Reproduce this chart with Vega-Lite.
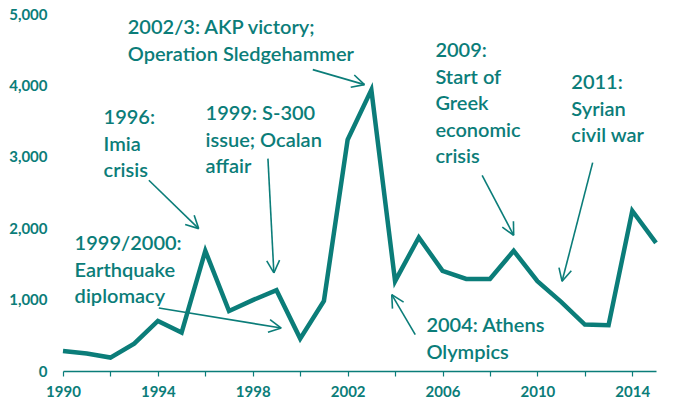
{
  "$schema": "https://vega.github.io/schema/vega-lite/v6.json",
  "width": 593,
  "height": 357,
  "autosize": {"type": "none"},
  "padding": {"left": 63, "top": 14, "right": 20, "bottom": 44},
  "background": "white",
  "config": {"view": {"stroke": null}, "font": "Lato"},
  "datasets": {
    "series": [
      {"year": 1990, "value": 280}, {"year": 1991, "value": 244}, {"year": 1992, "value": 188},
      {"year": 1993, "value": 384}, {"year": 1994, "value": 701}, {"year": 1995, "value": 538},
      {"year": 1996, "value": 1683}, {"year": 1997, "value": 841}, {"year": 1998, "value": 992},
      {"year": 1999, "value": 1132}, {"year": 2000, "value": 454}, {"year": 2001, "value": 982},
      {"year": 2002, "value": 3240}, {"year": 2003, "value": 3937}, {"year": 2004, "value": 1258},
      {"year": 2005, "value": 1871}, {"year": 2006, "value": 1403}, {"year": 2007, "value": 1290},
      {"year": 2008, "value": 1290}, {"year": 2009, "value": 1683}, {"year": 2010, "value": 1258},
      {"year": 2011, "value": 968}, {"year": 2012, "value": 651}, {"year": 2013, "value": 641},
      {"year": 2014, "value": 2244}, {"year": 2015, "value": 1795}
    ],
    "notes": [
      {"x": 1992.73, "y": 4940, "label": "2002/3: AKP victory;\nOperation Sledgehammer"},
      {"x": 1991.71, "y": 3679, "label": "1996:\nImia\ncrisis"},
      {"x": 1996.01, "y": 3735, "label": "1999: S-300\nissue; Ocalan\naffair"},
      {"x": 1990.49, "y": 1915, "label": "1999/2000:\nEarthquake\ndiplomacy"},
      {"x": 2005.70, "y": 4618, "label": "2009:\nStart of\nGreek\neconomic\ncrisis"},
      {"x": 2011.43, "y": 4169, "label": "2011:\nSyrian\ncivil war"},
      {"x": 2005.32, "y": 766, "label": "2004: Athens\nOlympics"}
    ],
    "arrows": [
      {"x1": 2000.53, "y1": 4221, "x2": 2002.71, "y2": 4011},
      {"x1": 2002.71, "y1": 4011, "x2": 2002.28, "y2": 4146},
      {"x1": 2002.71, "y1": 4011, "x2": 2002.13, "y2": 3975},
      {"x1": 1993.62, "y1": 2671, "x2": 1995.72, "y2": 1994},
      {"x1": 1995.72, "y1": 1994, "x2": 1995.53, "y2": 2181},
      {"x1": 1995.72, "y1": 1994, "x2": 1995.15, "y2": 2052},
      {"x1": 1998.64, "y1": 2975, "x2": 1998.89, "y2": 1373},
      {"x1": 1998.89, "y1": 1373, "x2": 1999.13, "y2": 1552},
      {"x1": 1998.89, "y1": 1373, "x2": 1998.59, "y2": 1542},
      {"x1": 1994.04, "y1": 882, "x2": 1999.20, "y2": 602},
      {"x1": 1999.20, "y1": 602, "x2": 1998.73, "y2": 719},
      {"x1": 1999.20, "y1": 602, "x2": 1998.64, "y2": 542},
      {"x1": 2007.67, "y1": 2741, "x2": 2009.00, "y2": 1901},
      {"x1": 2009.00, "y1": 1901, "x2": 2008.99, "y2": 2097},
      {"x1": 2009.00, "y1": 1901, "x2": 2008.52, "y2": 2014},
      {"x1": 2012.33, "y1": 2919, "x2": 2011.04, "y2": 1256},
      {"x1": 2011.04, "y1": 1256, "x2": 2011.43, "y2": 1403},
      {"x1": 2011.04, "y1": 1256, "x2": 2010.91, "y2": 1448},
      {"x1": 2004.85, "y1": 510, "x2": 2003.86, "y2": 1070},
      {"x1": 2003.86, "y1": 1070, "x2": 2003.89, "y2": 874},
      {"x1": 2003.86, "y1": 1070, "x2": 2004.36, "y2": 964}
    ]
  },
  "layer": [
    {
      "data": {"name": "series"},
      "mark": {"type": "line", "color": "#0b7d79", "strokeWidth": 4.5},
      "encoding": {
        "x": {
          "field": "year", "type": "quantitative", "title": null,
          "scale": {"domain": [1990, 2015], "nice": false, "zero": false},
          "axis": {
            "title": null, "grid": false,
            "values": [1990,1991,1992,1993,1994,1995,1996,1997,1998,1999,2000,2001,2002,2003,2004,2005,2006,2007,2008,2009,2010,2011,2012,2013,2014,2015],
            "labelExpr": "(datum.value - 1990) % 4 === 0 ? format(datum.value, 'd') : ''",
            "labelFlush": false, "labelOverlap": false, "labelBound": false,
            "domainColor": "#0b7d79", "domainWidth": 1.5,
            "tickColor": "#0b7d79", "tickSize": 5, "tickWidth": 1.2,
            "labelColor": "#0b7d79", "labelFont": "Lato", "labelFontWeight": "bold", "labelFontSize": 15,
            "labelPadding": 8
          }
        },
        "y": {
          "field": "value", "type": "quantitative", "title": null,
          "scale": {"domain": [0, 5000], "nice": false},
          "axis": {
            "title": null, "grid": false, "domain": false, "ticks": false,
            "values": [0, 1000, 2000, 3000, 4000, 5000],
            "labelExpr": "format(datum.value, ',')",
            "labelColor": "#0b7d79", "labelFont": "Lato", "labelFontWeight": "bold", "labelFontSize": 15,
            "labelPadding": 16
          }
        }
      }
    },
    {
      "data": {"name": "arrows"},
      "mark": {"type": "rule", "color": "#0b7d79", "strokeWidth": 1.6},
      "encoding": {
        "x": {"field": "x1", "type": "quantitative", "title": null},
        "y": {"field": "y1", "type": "quantitative", "title": null},
        "x2": {"field": "x2"},
        "y2": {"field": "y2"}
      }
    },
    {
      "data": {"name": "notes"},
      "mark": {"type": "text", "align": "left", "baseline": "top", "lineBreak": "\n", "fontSize": 20, "lineHeight": 26.5, "color": "#0b7d79", "font": "Lato", "fontWeight": 600},
      "encoding": {
        "x": {"field": "x", "type": "quantitative", "title": null},
        "y": {"field": "y", "type": "quantitative", "title": null},
        "text": {"field": "label"}
      }
    }
  ]
}
